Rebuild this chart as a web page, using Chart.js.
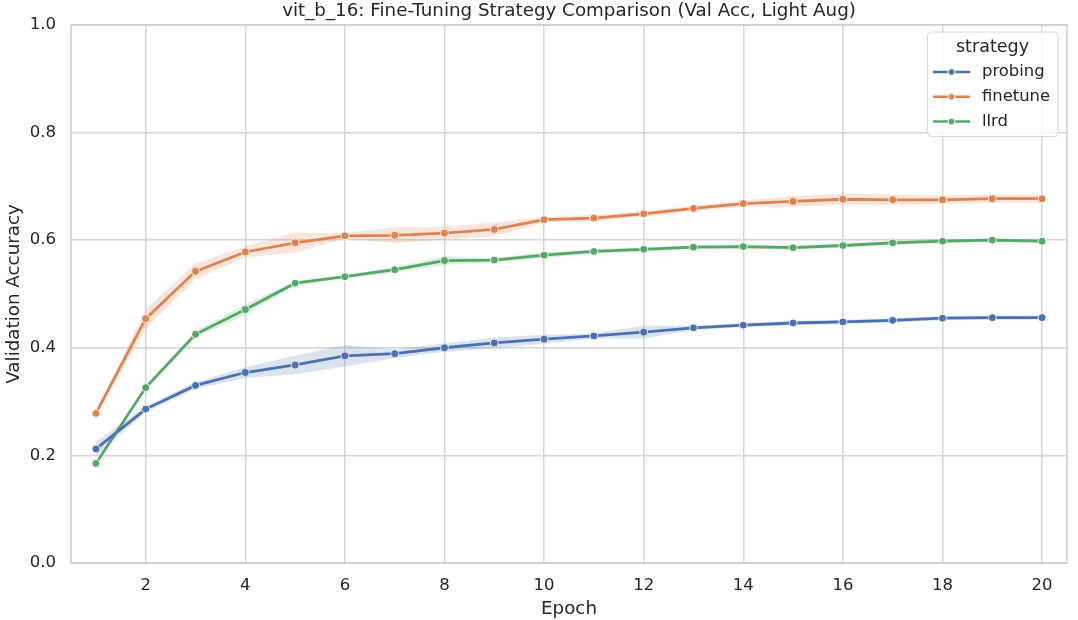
<!DOCTYPE html>
<html>
<head>
<meta charset="utf-8">
<script src="https://cdn.jsdelivr.net/npm/chart.js@4"></script>
<style>
  html, body { margin: 0; padding: 0; background: #fff; }
  #wrap { width: 1078px; height: 620px; }
</style>
</head>
<body>
<div id="wrap"><canvas id="c"></canvas></div>
<script>
// epochs and tick labels
const epochs = [1,2,3,4,5,6,7,8,9,10,11,12,13,14,15,16,17,18,19,20];
const xTicks = [2,4,6,8,10,12,14,16,18,20];
const yTicks = [0, 0.2, 0.4, 0.6, 0.8, 1.0];

// mean validation accuracy per strategy
const probing  = [0.212,0.286,0.330,0.354,0.368,0.385,0.389,0.400,0.409,0.416,0.422,0.429,0.437,0.442,0.446,0.448,0.451,0.455,0.456,0.456];
const finetune = [0.278,0.454,0.542,0.578,0.595,0.608,0.609,0.613,0.620,0.638,0.641,0.649,0.659,0.668,0.672,0.676,0.675,0.675,0.677,0.677];
const llrd     = [0.185,0.326,0.425,0.471,0.520,0.532,0.545,0.562,0.563,0.572,0.579,0.583,0.587,0.588,0.586,0.590,0.595,0.598,0.600,0.598];

// confidence band half widths
const probingErr  = [0.013,0.006,0.006,0.010,0.017,0.020,0.008,0.008,0.010,0.008,0.005,0.012,0.004,0.004,0.004,0.004,0.004,0.004,0.004,0.004];
const finetuneErr = [0.004,0.018,0.015,0.010,0.019,0.005,0.015,0.012,0.013,0.005,0.006,0.005,0.005,0.006,0.010,0.010,0.010,0.008,0.008,0.008];
const llrdErr     = [0.003,0.004,0.006,0.010,0.004,0.003,0.005,0.008,0.004,0.005,0.004,0.004,0.004,0.004,0.004,0.004,0.004,0.004,0.004,0.004];

const series = [
  { name: "probing",  mean: probing,  err: probingErr,  color: "#4c72b0", band: "rgba(76,114,176,0.2)" },
  { name: "finetune", mean: finetune, err: finetuneErr, color: "#dd8452", band: "rgba(221,132,82,0.2)" },
  { name: "llrd",     mean: llrd,     err: llrdErr,     color: "#55a868", band: "rgba(85,168,104,0.2)" },
];

const FONT = "'DejaVu Sans', sans-serif";
const TXT = "#262626";

const datasets = [];
series.forEach(s => {
  datasets.push({
    label: s.name + " lo",
    data: epochs.map((e, i) => ({ x: e, y: s.mean[i] - s.err[i] })),
    borderWidth: 0, pointRadius: 0, fill: false, tension: 0
  });
  datasets.push({
    label: s.name + " hi",
    data: epochs.map((e, i) => ({ x: e, y: s.mean[i] + s.err[i] })),
    borderWidth: 0, pointRadius: 0, fill: "-1", backgroundColor: s.band, tension: 0
  });
});
series.forEach(s => {
  datasets.push({
    label: s.name,
    data: epochs.map((e, i) => ({ x: e, y: s.mean[i] })),
    borderColor: s.color,
    backgroundColor: s.color,
    borderWidth: 2.8,
    pointRadius: 4,
    pointBackgroundColor: s.color,
    pointBorderColor: "#fff",
    pointBorderWidth: 1,
    fill: false,
    tension: 0
  });
});

// frame around plot + legend box like seaborn
const extras = {
  id: "extras",
  afterDatasetsDraw(chart) {
    const { ctx, chartArea: a } = chart;
    ctx.save();
    ctx.strokeStyle = "#cccccc";
    ctx.lineWidth = 1.5;
    ctx.strokeRect(a.left, a.top, a.right - a.left, a.bottom - a.top);

    // legend
    const bx = 927.5, by = 32, bw = 130.5, bh = 104.5;
    ctx.fillStyle = "rgba(255,255,255,0.8)";
    ctx.strokeStyle = "#d8d8d8";
    ctx.lineWidth = 1;
    ctx.beginPath();
    ctx.roundRect(bx, by, bw, bh, 4);
    ctx.fill();
    ctx.stroke();

    ctx.fillStyle = TXT;
    ctx.textBaseline = "middle";
    ctx.textAlign = "center";
    ctx.font = "17.5px " + FONT;
    ctx.fillText("strategy", 992.5, 47);

    ctx.textAlign = "left";
    ctx.font = "16.4px " + FONT;
    series.forEach((s, i) => {
      const y = 72 + i * 24.8;
      ctx.strokeStyle = s.color;
      ctx.lineWidth = 2.5;
      ctx.beginPath();
      ctx.moveTo(933, y);
      ctx.lineTo(970, y);
      ctx.stroke();
      ctx.beginPath();
      ctx.arc(951.5, y, 3.4, 0, Math.PI * 2);
      ctx.fillStyle = s.color;
      ctx.fill();
      ctx.strokeStyle = "#fff";
      ctx.lineWidth = 1;
      ctx.stroke();
      ctx.fillStyle = TXT;
      ctx.fillText(s.name, 982, y);
    });
    ctx.restore();
  }
};

new Chart(document.getElementById("c"), {
  type: "line",
  data: { datasets },
  plugins: [extras],
  options: {
    responsive: true,
    maintainAspectRatio: false,
    animation: false,
    layout: { padding: { left: 0, right: 11, top: 0, bottom: 0 } },
    plugins: {
      legend: { display: false },
      tooltip: { enabled: false },
      title: {
        display: true,
        fullSize: false,
        text: "vit_b_16: Fine-Tuning Strategy Comparison (Val Acc, Light Aug)",
        color: TXT,
        font: { family: FONT, size: 18.3, weight: "normal", lineHeight: 1.1 },
        padding: { top: 0, bottom: 4 }
      }
    },
    scales: {
      x: {
        type: "linear",
        min: 0.5,
        max: 20.5,
        afterBuildTicks: axis => { axis.ticks = xTicks.map(v => ({ value: v })); },
        afterFit: axis => { axis.height = 57; },
        grid: { color: "#d5d5d5", lineWidth: 1.5, drawTicks: false },
        border: { display: false },
        ticks: { color: TXT, padding: 13, font: { family: FONT, size: 16.5 } },
        title: { display: true, text: "Epoch", color: TXT, font: { family: FONT, size: 18.3 }, padding: { top: 2, bottom: 0 } }
      },
      y: {
        min: 0,
        max: 1,
        afterBuildTicks: axis => { axis.ticks = yTicks.map(v => ({ value: v })); },
        afterFit: axis => { axis.width = 71; },
        grid: { color: "#d5d5d5", lineWidth: 1.5, drawTicks: false },
        border: { display: false },
        ticks: { color: TXT, padding: 15, font: { family: FONT, size: 16.5 }, callback: v => v.toFixed(1) },
        title: { display: true, text: "Validation Accuracy", color: TXT, font: { family: FONT, size: 18.3 }, padding: { top: 3, bottom: 4 } }
      }
    }
  }
});
</script>
</body>
</html>
